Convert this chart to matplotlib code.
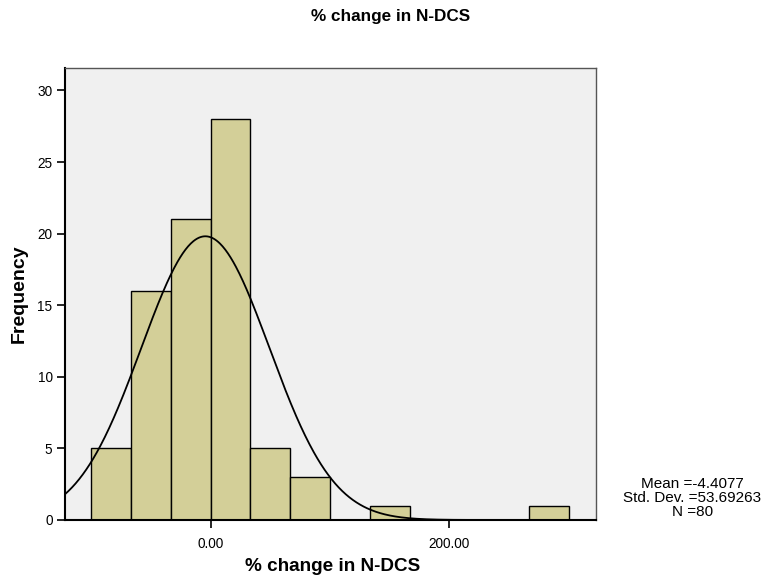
import numpy as np
import matplotlib
matplotlib.use("Agg")
import matplotlib.pyplot as plt

plt.rcParams['font.family'] = ['Liberation Sans', 'DejaVu Sans']

# Histogram of % change in N-DCS (bin edges and counts per bin)
bin_edges = [-100.0, -66.667, -33.333, 0.0, 33.333, 66.667, 100.0,
             133.333, 166.667, 200.0, 233.333, 266.667, 300.0]
counts = [5, 16, 21, 28, 5, 3, 0, 1, 0, 0, 0, 1]

mean_val = -4.4077
std_val = 53.69263
n_val = 80

x_ticks = [0.0, 200.0]
x_tick_labels = ["0.00", "200.00"]
y_ticks = [0, 5, 10, 15, 20, 25, 30]

fig = plt.figure(figsize=(7.72, 5.81), dpi=100)
ax = fig.add_axes([0.0842, 0.105, 0.6872, 0.7788])
ax.set_facecolor('#F0F0F0')

edges = np.array(bin_edges)
widths = np.diff(edges)
ax.bar(edges[:-1], counts, width=widths, align='edge',
       color='#D3CF98', edgecolor='black', linewidth=1.0, zorder=2)

# Fitted normal curve scaled to counts
xlim = (-122.0, 322.5)
xs = np.linspace(xlim[0], xlim[1], 600)
binw = widths[0]
ys = n_val * binw / (std_val * np.sqrt(2 * np.pi)) * np.exp(-0.5 * ((xs - mean_val) / std_val) ** 2)
ax.plot(xs, ys, color='black', linewidth=1.3, zorder=3)

ax.set_xlim(*xlim)
ax.set_ylim(0, 31.6)
ax.set_xticks(x_ticks)
ax.set_xticklabels(x_tick_labels)
ax.set_yticks(y_ticks)
ax.tick_params(axis='both', direction='out', length=6, width=1.2, labelsize=9.8, colors='black')
ax.tick_params(axis='x', pad=6)
ax.tick_params(axis='y', pad=3)

for side in ['left', 'bottom']:
    ax.spines[side].set_linewidth(1.5)
    ax.spines[side].set_color('black')
for side in ['top', 'right']:
    ax.spines[side].set_linewidth(1.0)
    ax.spines[side].set_color('#555555')

ax.set_xlabel('% change in N-DCS', fontsize=13.6, fontweight='bold')
ax.xaxis.set_label_coords(0.505, -0.083)
ax.set_ylabel('Frequency', fontsize=14, fontweight='bold')
ax.yaxis.set_label_coords(-0.071, 0.5)

fig.text(0.506, 0.985, '% change in N-DCS', ha='center', va='top',
         fontsize=12.3, fontweight='bold')

fig.text(0.897, 0.143,
         'Mean =%s\nStd. Dev. =%s\nN =%d' % (mean_val, std_val, n_val),
         ha='center', va='center', fontsize=11.0, linespacing=1.02)

fig.savefig('out.png', dpi=100)
